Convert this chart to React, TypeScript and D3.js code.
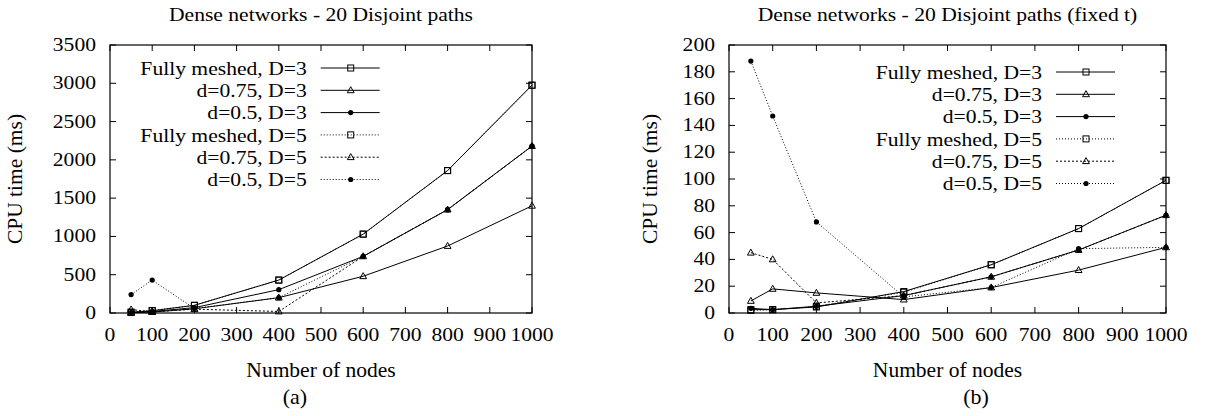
import React from "react";
import * as d3 from "d3";

const nodes = [50, 100, 200, 400, 600, 800, 1000];
const xTicks = [0, 100, 200, 300, 400, 500, 600, 700, 800, 900, 1000];

const labels = [
  "Fully meshed, D=3",
  "d=0.75, D=3",
  "d=0.5, D=3",
  "Fully meshed, D=5",
  "d=0.75, D=5",
  "d=0.5, D=5",
];

// Panel (a)
const aFullD3 = [10, 30, 100, 430, 1030, 1860, 2975];
const aD075D3 = [3, 12, 55, 200, 480, 875, 1400];
const aD05D3 = [5, 20, 70, 305, 740, 1350, 2180];
const aFullD5 = [10, 32, 100, 430, 1030, 1860, 2975];
const aD075D5 = [45, 15, 50, 20, 740, 1350, 2180];
const aD05D5 = [240, 430, 58, 200, 740, 1350, 2180];
const aYTicks = [0, 500, 1000, 1500, 2000, 2500, 3000, 3500];

// Panel (b)
const bFullD3 = [2.5, 2.5, 4.5, 16, 36, 63, 99];
const bD075D3 = [9, 18, 15, 10, 19, 32, 49];
const bD05D3 = [3.5, 2.5, 5, 13, 27, 47, 73];
const bFullD5 = [2, 2.5, 5, 15.5, 36, 63, 99];
const bD075D5 = [45, 40, 7.5, 13, 27, 47, 73];
const bD05D5 = [188, 147, 68, 12, 19, 48, 49];
const bYTicks = [0, 20, 40, 60, 80, 100, 120, 140, 160, 180, 200];

const markers = ["square", "triangle", "circle", "square", "triangle", "circle"];
const dashes = ["none", "none", "none", "1,2", "2,2", "1,2"];

const FONT = "'Liberation Serif', 'Times New Roman', serif";

function T({ x, y, anchor = "middle", size = 18, sx = 1.2, children }: any) {
  return (
    <text
      transform={`translate(${x},${y}) scale(${sx},1)`}
      textAnchor={anchor}
      fontSize={size}
      fontFamily={FONT}
      fill="#000"
    >
      {children}
    </text>
  );
}

function Marker({ kind, x, y }: any) {
  if (kind === "square")
    return <rect x={x - 3} y={y - 3} width={6} height={6} fill="none" stroke="#000" strokeWidth={1} />;
  if (kind === "triangle") {
    const p = `${x},${y - 3.6} ${x + 3.4},${y + 2.4} ${x - 3.4},${y + 2.4}`;
    return <polygon points={p} fill="none" stroke="#000" strokeWidth={1} />;
  }
  return <circle cx={x} cy={y} r={2.6} fill="#000" />;
}

function Panel({
  x0, x1, y0, y1, yMax, yTicks, series, title, legendX, legendY, ylabelX, subX, subLabel,
}: any) {
  const xs = d3.scaleLinear().domain([0, 1000]).range([x0, x1]);
  const ys = d3.scaleLinear().domain([0, yMax]).range([y1, y0]);
  const line = d3
    .line<number>()
    .x((_, i) => xs(nodes[i]))
    .y((d) => ys(d));
  const cx = (x0 + x1) / 2;
  const cy = (y0 + y1) / 2;
  const tl = 6;
  return (
    <g>
      <T x={cx} y={21}>{title}</T>
      {xTicks.map((t) => (
        <g key={"x" + t}>
          <line x1={xs(t)} x2={xs(t)} y1={y1} y2={y1 - tl} stroke="#000" />
          <line x1={xs(t)} x2={xs(t)} y1={y0} y2={y0 + tl} stroke="#000" />
          <T x={xs(t)} y={341}>{t}</T>
        </g>
      ))}
      {yTicks.map((t: number) => (
        <g key={"y" + t}>
          <line x1={x0} x2={x0 + tl} y1={ys(t)} y2={ys(t)} stroke="#000" />
          <line x1={x1} x2={x1 - tl} y1={ys(t)} y2={ys(t)} stroke="#000" />
          <T x={x0 - 14} y={ys(t) + 6} anchor="end">{t}</T>
        </g>
      ))}
      {series.map((s: number[], k: number) => (
        <g key={"s" + k}>
          <path
            d={line(s) || ""}
            fill="none"
            stroke="#000"
            strokeWidth={1}
            strokeDasharray={dashes[k]}
          />
          {s.map((v, i) => (
            <Marker key={i} kind={markers[k]} x={xs(nodes[i])} y={ys(v)} />
          ))}
        </g>
      ))}
      {labels.map((l, k) => {
        const ly = legendY + k * 22.3;
        return (
          <g key={"l" + k}>
            <T x={legendX} y={ly + 6.6} anchor="end">{l}</T>
            <line
              x1={legendX + 14}
              x2={legendX + 73}
              y1={ly}
              y2={ly}
              stroke="#000"
              strokeWidth={1}
              strokeDasharray={dashes[k]}
            />
            <Marker kind={markers[k]} x={legendX + 44} y={ly} />
          </g>
        );
      })}
      <rect x={x0} y={y0} width={x1 - x0} height={y1 - y0} fill="none" stroke="#000" strokeWidth={1.2} />
      <text
        transform={`translate(${ylabelX},${cy}) rotate(-90)`}
        textAnchor="middle"
        fontSize={21.5}
        fontFamily={FONT}
      >
        CPU time (ms)
      </text>
      <text x={cx} y={377} textAnchor="middle" fontSize={21.5} fontFamily={FONT}>
        Number of nodes
      </text>
      <text x={subX} y={404} textAnchor="middle" fontSize={22} fontFamily={FONT}>
        {subLabel}
      </text>
    </g>
  );
}

export default function App() {
  return (
    <div style={{ position: "absolute", left: 0, top: 0 }}>
      <svg width={1207} height={416} style={{ display: "block", background: "#fff" }}>
        <Panel
          x0={110}
          x1={532}
          y0={45}
          y1={313}
          yMax={3500}
          yTicks={aYTicks}
          series={[aFullD3, aD075D3, aD05D3, aFullD5, aD075D5, aD05D5]}
          title="Dense networks - 20 Disjoint paths"
          legendX={306.7}
          legendY={68}
          ylabelX={22}
          subX={295}
          subLabel="(a)"
        />
        <Panel
          x0={729}
          x1={1166}
          y0={45}
          y1={313}
          yMax={200}
          yTicks={bYTicks}
          series={[bFullD3, bD075D3, bD05D3, bFullD5, bD075D5, bD05D5]}
          title="Dense networks - 20 Disjoint paths (fixed t)"
          legendX={1042}
          legendY={72}
          ylabelX={657}
          subX={976}
          subLabel="(b)"
        />
      </svg>
    </div>
  );
}
